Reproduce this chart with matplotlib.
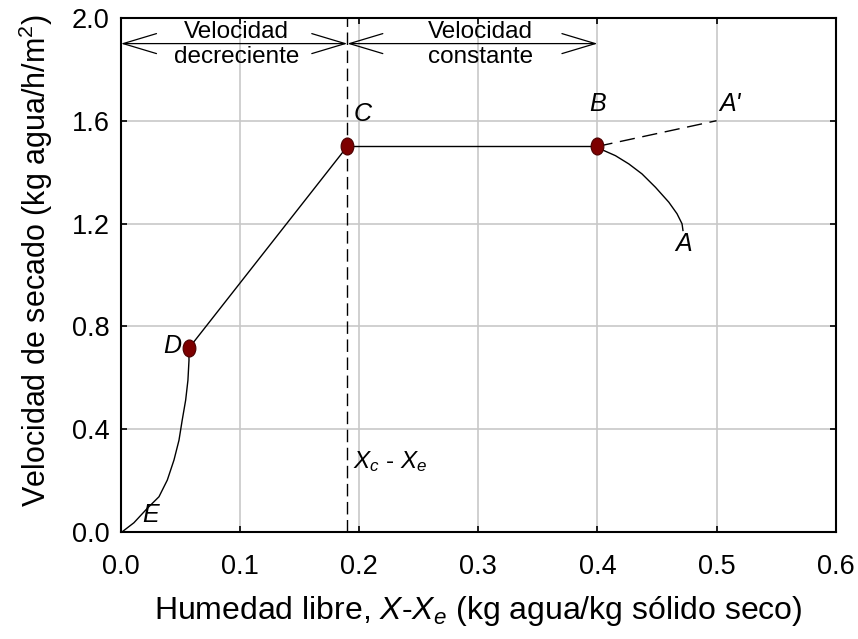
import matplotlib
matplotlib.use("Agg")
import matplotlib.pyplot as plt
from matplotlib.path import Path
from matplotlib.transforms import Affine2D

plt.rcParams['font.family'] = ['Liberation Sans', 'DejaVu Sans']
plt.rcParams['mathtext.fontset'] = 'custom'
plt.rcParams['mathtext.rm'] = 'Liberation Sans'
plt.rcParams['mathtext.it'] = 'Liberation Sans:italic'

# Drying-rate curve segments (free moisture, drying rate)
x_BA = [0.400, 0.4039, 0.4151, 0.4263, 0.4374, 0.4487, 0.4599, 0.4668, 0.4710, 0.4718]
y_BA = [1.500, 1.487, 1.464, 1.432, 1.393, 1.341, 1.283, 1.238, 1.199, 1.173]
x_BAp = [0.40, 0.50]
y_BAp = [1.50, 1.60]
x_CB = [0.19, 0.40]
y_CB = [1.50, 1.50]
x_DC = [0.057, 0.19]
y_DC = [0.715, 1.50]
x_ED = [0.0011, 0.0109, 0.0221, 0.0319, 0.0389, 0.0445, 0.0487, 0.0514,
        0.0543, 0.0562, 0.0571, 0.057]
y_ED = [0.001, 0.036, 0.092, 0.137, 0.202, 0.280, 0.357, 0.435,
        0.513, 0.590, 0.668, 0.715]

# Key points
pt_x = [0.40, 0.19, 0.057]
pt_y = [1.50, 1.50, 0.715]

x_critical = 0.19
x_ticks = [0.0, 0.1, 0.2, 0.3, 0.4, 0.5, 0.6]
y_ticks = [0.0, 0.4, 0.8, 1.2, 1.6, 2.0]

fig = plt.figure(figsize=(8.58, 6.39), dpi=100)
ax = fig.add_axes([0.141, 0.1675, 0.833, 0.8045])

ax.set_xlim(0, 0.6)
ax.set_ylim(0, 2.0)
ax.set_xticks(x_ticks)
ax.set_yticks(y_ticks)
ax.set_xticklabels([f"{v:.1f}" for v in x_ticks])
ax.set_yticklabels([f"{v:.1f}" for v in y_ticks])
ax.tick_params(direction='in', length=4, width=1.2, top=True, right=True,
               labelsize=19.5)
ax.tick_params(axis='x', pad=16)
ax.tick_params(axis='y', pad=8)
ax.grid(True, color='#c8c8c8', linewidth=1.2)
ax.set_axisbelow(True)
for s in ax.spines.values():
    s.set_linewidth(1.5)

lc = 'black'
ax.plot(x_BA, y_BA, color=lc, lw=1.0, solid_joinstyle='round')
ax.plot(x_BAp, y_BAp, color=lc, lw=1.0, dashes=(11, 5.5))
ax.plot(x_CB, y_CB, color=lc, lw=1.0)
ax.plot(x_DC, y_DC, color=lc, lw=1.0)
ax.plot(x_ED, y_ED, color=lc, lw=1.0, solid_joinstyle='round')
ax.plot([x_critical, x_critical], [0, 2.0], color=lc, lw=1.0, dashes=(9, 4))

# Elliptical markers
ell = Path.unit_circle().transformed(Affine2D().scale(0.75, 1.0))
ax.scatter(pt_x, pt_y, marker=ell, s=150, facecolor='#7d0000',
           edgecolor='#4a0000', linewidths=0.8, zorder=5)

lab_kw = dict(fontsize=18, style='italic')
ax.text(0.400, 1.62, 'B', ha='center', va='bottom', **lab_kw)
ax.text(0.203, 1.58, 'C', ha='center', va='bottom', **lab_kw)
ax.text(0.051, 0.725, 'D', ha='right', va='center', **lab_kw)
ax.text(0.502, 1.665, "A'", ha='left', va='center', **lab_kw)
ax.text(0.472, 1.12, 'A', ha='center', va='center', **lab_kw)
ax.text(0.018, 0.065, 'E', ha='left', va='center', **lab_kw)
ax.text(0.195, 0.275, r'$X_c$ - $X_e$', ha='left', va='center', fontsize=17.5)

# Region arrows along the top
arrow_y = 1.90
aprops = dict(arrowstyle='<->,head_length=1.2,head_width=0.36',
              mutation_scale=20, lw=0.9, color='black',
              shrinkA=0, shrinkB=0)
ax.annotate('', xy=(0.0, arrow_y), xytext=(x_critical, arrow_y),
            arrowprops=aprops)
ax.annotate('', xy=(x_critical, arrow_y), xytext=(0.40, arrow_y),
            arrowprops=aprops)
ax.text(0.097, arrow_y - 0.003, 'Velocidad\ndecreciente', ha='center', va='center',
        fontsize=17.5, linespacing=1.2)
ax.text(0.302, arrow_y - 0.003, 'Velocidad\nconstante', ha='center', va='center',
        fontsize=17.5, linespacing=1.2)

ax.set_xlabel(r'Humedad libre, $X$-$X_e$ (kg agua/kg sólido seco)',
              fontsize=23, labelpad=10)
ax.set_ylabel(r'Velocidad de secado (kg agua/h/m$^2$)', fontsize=22)
ax.yaxis.set_label_coords(-0.093, 0.528)

fig.savefig('out.png', dpi=100)
